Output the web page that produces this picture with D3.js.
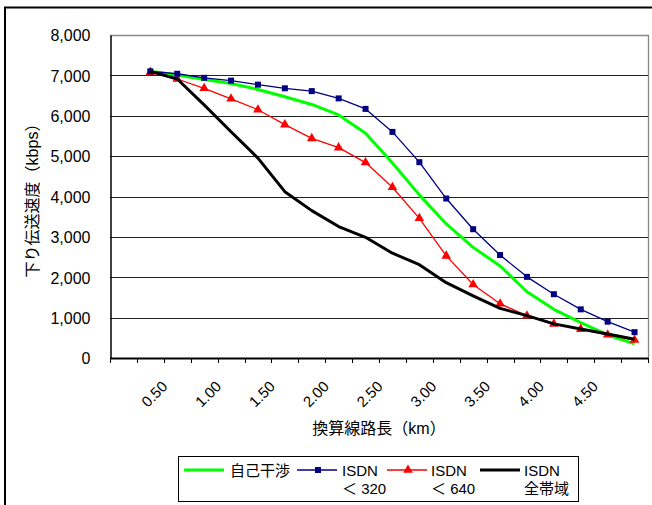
<!DOCTYPE html>
<html>
<head>
<meta charset="utf-8">
<script src="https://cdn.jsdelivr.net/npm/d3@7"></script>
<style>
  body { margin: 0; background: #fff; }
  svg { display: block; }
  text { font-family: "Liberation Sans", Arial, "Noto Sans CJK JP", sans-serif; fill: #000; }
</style>
</head>
<body>
<svg id="chart" width="652" height="505"></svg>
<script>
// categories on the x axis (line length, km), 0.25 step
var categories = ["0.25","0.50","0.75","1.00","1.25","1.50","1.75","2.00","2.25","2.50",
                  "2.75","3.00","3.25","3.50","3.75","4.00","4.25","4.50","4.75","5.00"];
var xTickLabels = ["0.50","1.00","1.50","2.00","2.50","3.00","3.50","4.00","4.50"];
var yTicks = [0, 1000, 2000, 3000, 4000, 5000, 6000, 7000, 8000];

// data points start at 0.50
var dataCats = categories.slice(1);
var selfInterference = [7100, 7010, 6900, 6800, 6650, 6470, 6280, 6020, 5565, 4830,
                        4040, 3320, 2740, 2280, 1640, 1205, 875, 570, 350];
var isdn320 = [7100, 7040, 6940, 6870, 6770, 6680, 6610, 6430, 6170, 5600,
               4850, 3950, 3190, 2550, 2010, 1580, 1205, 900, 640];
var isdn640 = [7080, 6910, 6680, 6420, 6150, 5780, 5440, 5210, 4840, 4230,
               3460, 2530, 1820, 1345, 1045, 845, 715, 575, 445];
var isdnAll = [7100, 6910, 6270, 5605, 4950, 4120, 3650, 3255, 2990, 2595,
               2310, 1865, 1540, 1230, 1050, 845, 720, 595, 465];

var svg = d3.select("#chart");
var margin = {top: 35, right: 4, bottom: 147, left: 110};
var W = +svg.attr("width"), H = +svg.attr("height");

// outer chart frame (right and bottom edges fall outside the picture)
svg.append("rect")
  .attr("x", 5).attr("y", 7.5)
  .attr("width", 700).attr("height", 600)
  .attr("fill", "none").attr("stroke", "#000").attr("stroke-width", 2);

var x = d3.scaleBand()
  .domain(categories)
  .range([margin.left, W - margin.right]);

var y = d3.scaleLinear()
  .domain([0, 8000])
  .range([H - margin.bottom, margin.top]);

var plotL = margin.left, plotR = W - margin.right;
var plotT = margin.top, plotB = H - margin.bottom;

// gridlines
svg.append("g").selectAll("line")
  .data(yTicks.filter(function(d) { return d > 0 && d < 8000; }))
  .enter().append("line")
    .attr("x1", plotL).attr("x2", plotR)
    .attr("y1", function(d) { return Math.round(y(d)) + 0.5; })
    .attr("y2", function(d) { return Math.round(y(d)) + 0.5; })
    .attr("stroke", "#222").attr("stroke-width", 1);

// plot area border (top and right, gray)
svg.append("path")
  .attr("d", "M" + plotL + "," + (plotT + 0.5) + "H" + (plotR + 0.5) + "V" + plotB)
  .attr("fill", "none").attr("stroke", "#888").attr("stroke-width", 1.3);

// y axis
var yAxis = d3.axisLeft(y).tickValues(yTicks).tickSize(0).tickPadding(20)
  .tickFormat(d3.format(","));
var gy = svg.append("g").attr("transform", "translate(" + (plotL + 0.5) + ",0)").call(yAxis);
gy.select(".domain").attr("stroke", "#000").attr("stroke-width", 1.5);
gy.selectAll("text").style("font-size", "16px").attr("dy", "0.36em");

// x axis: tick marks at category boundaries
var gx = svg.append("g");
gx.append("line")
  .attr("x1", plotL).attr("x2", plotR + 0.5)
  .attr("y1", plotB + 0.5).attr("y2", plotB + 0.5)
  .attr("stroke", "#000").attr("stroke-width", 1.8);
gx.selectAll("line.tick")
  .data(categories.concat(["end"]))
  .enter().append("line")
    .attr("class", "tick")
    .attr("x1", function(d, i) { return Math.round(plotL + i * x.bandwidth()) + 0.5; })
    .attr("x2", function(d, i) { return Math.round(plotL + i * x.bandwidth()) + 0.5; })
    .attr("y1", plotB).attr("y2", plotB + 5)
    .attr("stroke", "#000").attr("stroke-width", 1);
gx.selectAll("text")
  .data(xTickLabels)
  .enter().append("text")
    .attr("transform", function(d) {
      return "translate(" + (x(d) + x.bandwidth() / 2 + 4) + "," + 394 + ") rotate(-45)";
    })
    .attr("text-anchor", "middle")
    .attr("dy", "0.35em")
    .style("font-size", "15px")
    .text(function(d) { return d; });

// axis titles
svg.append("text")
  .attr("transform", "translate(32," + ((plotT + plotB) / 2) + ") rotate(-90)")
  .attr("text-anchor", "middle").attr("dy", "0.36em")
  .style("font-size", "16px")
  .text("下り伝送速度（kbps）");
svg.append("text")
  .attr("x", (plotL + plotR) / 2).attr("y", 434)
  .attr("text-anchor", "middle")
  .style("font-size", "16px")
  .text("換算線路長（km）");

// series
var series = [
  {name: "自己干渉", values: selfInterference, color: "#00ff00", width: 3, marker: null},
  {name: "ISDN < 320", values: isdn320, color: "#000080", width: 1.3, marker: "square"},
  {name: "ISDN < 640", values: isdn640, color: "#ff0000", width: 1.3, marker: "triangle"},
  {name: "ISDN 全帯域", values: isdnAll, color: "#000000", width: 3, marker: null}
];

var line = d3.line()
  .x(function(d, i) { return x(dataCats[i]) + x.bandwidth() / 2; })
  .y(function(d) { return y(d); });

var markerPath = {
  square: d3.symbol().type(d3.symbolSquare).size(36),
  triangle: d3.symbol().type(d3.symbolTriangle).size(40)
};

// draw in order so black sits on top, like the reference
[0, 2, 1, 3].forEach(function(k) {
  var s = series[k];
  svg.append("path")
    .datum(s.values)
    .attr("fill", "none")
    .attr("stroke", s.color)
    .attr("stroke-width", s.width)
    .attr("stroke-linejoin", "round")
    .attr("d", line);
  if (s.marker) {
    svg.append("g").selectAll("path")
      .data(s.values)
      .enter().append("path")
        .attr("transform", function(d, i) {
          return "translate(" + (x(dataCats[i]) + x.bandwidth() / 2) + "," + y(d) + ")";
        })
        .attr("d", markerPath[s.marker]())
        .attr("fill", s.color);
  }
});

// legend
var legend = svg.append("g");
legend.append("rect")
  .attr("x", 178.5).attr("y", 456.5).attr("width", 400).attr("height", 45)
  .attr("fill", "#fff").attr("stroke", "#000").attr("stroke-width", 1);

var legendItems = [
  {s: series[0], lx: 184, tx: 230, line1: "自己干渉", line2: ""},
  {s: series[1], lx: 297, tx: 342, line1: "ISDN", line2: "＜ 320"},
  {s: series[2], lx: 387, tx: 431, line1: "ISDN", line2: "＜ 640"},
  {s: series[3], lx: 480, tx: 524, line1: "ISDN", line2: "全帯域"}
];
legendItems.forEach(function(it) {
  legend.append("line")
    .attr("x1", it.lx).attr("x2", it.lx + 40)
    .attr("y1", 470).attr("y2", 470)
    .attr("stroke", it.s.color).attr("stroke-width", it.s.width);
  if (it.s.marker) {
    legend.append("path")
      .attr("transform", "translate(" + (it.lx + 21) + ",470)")
      .attr("d", markerPath[it.s.marker]())
      .attr("fill", it.s.color);
  }
  legend.append("text")
    .attr("x", it.tx).attr("y", 476)
    .style("font-size", "15px")
    .text(it.line1);
  if (it.line2) {
    legend.append("text")
      .attr("x", it.tx).attr("y", 494)
      .style("font-size", "15px")
      .text(it.line2);
  }
});
</script>
</body>
</html>
